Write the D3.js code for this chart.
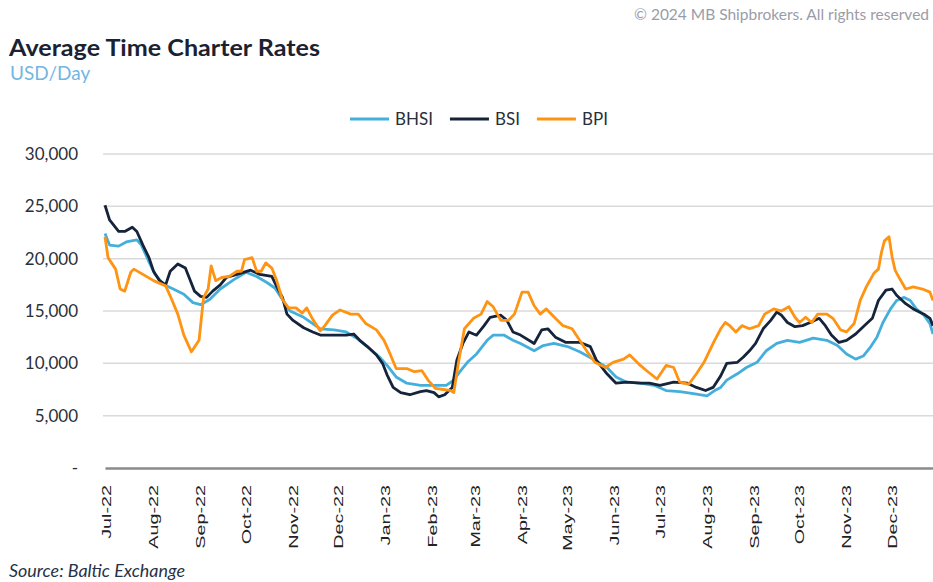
<!DOCTYPE html>
<html>
<head>
<meta charset="utf-8">
<script src="https://cdn.jsdelivr.net/npm/d3@7"></script>
<style>
  body { margin: 0; background: #fff; }
  svg { display: block; }
  text { font-family: Lato, "Open Sans", sans-serif; }
</style>
</head>
<body>
<script>
// values (USD/day)
const bhsi = [
  ['2022-07-01', 22400], ['2022-07-04', 21300], ['2022-07-10', 21200], ['2022-07-15', 21600], ['2022-07-22', 21800],
  ['2022-07-25', 21300], ['2022-07-30', 19700], ['2022-08-03', 18500], ['2022-08-09', 17500], ['2022-08-15', 17100],
  ['2022-08-22', 16600], ['2022-08-28', 15800], ['2022-09-02', 15600], ['2022-09-08', 16100], ['2022-09-15', 17100],
  ['2022-09-24', 18000], ['2022-10-02', 18700], ['2022-10-09', 18300], ['2022-10-16', 17700], ['2022-10-21', 17200],
  ['2022-10-26', 16100], ['2022-10-31', 15000], ['2022-11-09', 14400], ['2022-11-20', 13300], ['2022-11-29', 13200],
  ['2022-12-07', 13000], ['2022-12-14', 12400], ['2022-12-21', 11600], ['2022-12-29', 10600], ['2023-01-03', 9800],
  ['2023-01-09', 8700], ['2023-01-16', 8100], ['2023-01-25', 7900], ['2023-02-03', 7900], ['2023-02-11', 7900],
  ['2023-02-16', 8400], ['2023-02-20', 9200], ['2023-02-25', 10100], ['2023-03-03', 10900], ['2023-03-10', 12200],
  ['2023-03-14', 12700], ['2023-03-21', 12700], ['2023-03-27', 12200], ['2023-04-01', 11900], ['2023-04-10', 11200],
  ['2023-04-16', 11700], ['2023-04-23', 11900], ['2023-05-02', 11600], ['2023-05-10', 11100], ['2023-05-19', 10400],
  ['2023-05-28', 9600], ['2023-06-03', 8700], ['2023-06-10', 8200], ['2023-06-19', 8100], ['2023-06-28', 7900],
  ['2023-07-06', 7400], ['2023-07-15', 7300], ['2023-07-24', 7100], ['2023-08-02', 6900], ['2023-08-07', 7400],
  ['2023-08-11', 7700], ['2023-08-15', 8400], ['2023-08-22', 9000], ['2023-08-28', 9600], ['2023-09-04', 10100],
  ['2023-09-10', 11200], ['2023-09-17', 11900], ['2023-09-24', 12200], ['2023-10-02', 12000], ['2023-10-11', 12400],
  ['2023-10-20', 12200], ['2023-10-27', 11700], ['2023-11-02', 10900], ['2023-11-08', 10400], ['2023-11-13', 10700],
  ['2023-11-18', 11600], ['2023-11-22', 12500], ['2023-11-26', 13900], ['2023-12-01', 15200], ['2023-12-05', 16000],
  ['2023-12-10', 16300], ['2023-12-14', 16000], ['2023-12-18', 15200], ['2023-12-23', 14600], ['2023-12-27', 13800],
  ['2023-12-29', 12800]
];

const bsi = [
  ['2022-07-01', 25100], ['2022-07-04', 23700], ['2022-07-10', 22600], ['2022-07-14', 22600], ['2022-07-19', 23000],
  ['2022-07-22', 22600], ['2022-07-26', 21300], ['2022-07-30', 20100], ['2022-08-02', 18800], ['2022-08-06', 17900],
  ['2022-08-10', 17500], ['2022-08-13', 18800], ['2022-08-18', 19500], ['2022-08-23', 19100], ['2022-08-26', 18000],
  ['2022-08-29', 16900], ['2022-09-02', 16400], ['2022-09-06', 16300], ['2022-09-10', 16900], ['2022-09-15', 17500],
  ['2022-09-19', 18200], ['2022-09-26', 18500], ['2022-10-05', 18900], ['2022-10-11', 18500], ['2022-10-19', 18300],
  ['2022-10-22', 17400], ['2022-10-26', 16300], ['2022-10-29', 14700], ['2022-11-02', 14100], ['2022-11-09', 13400],
  ['2022-11-15', 13000], ['2022-11-20', 12700], ['2022-11-29', 12700], ['2022-12-07', 12700], ['2022-12-12', 12800],
  ['2022-12-16', 12200], ['2022-12-21', 11600], ['2022-12-27', 10800], ['2022-12-31', 10000], ['2023-01-03', 8900],
  ['2023-01-07', 7700], ['2023-01-12', 7200], ['2023-01-18', 7000], ['2023-01-25', 7300], ['2023-01-29', 7400],
  ['2023-02-03', 7200], ['2023-02-06', 6800], ['2023-02-10', 7000], ['2023-02-15', 7700], ['2023-02-18', 10300],
  ['2023-02-22', 11900], ['2023-02-26', 13000], ['2023-03-01', 12800], ['2023-03-03', 12700], ['2023-03-08', 13600],
  ['2023-03-12', 14400], ['2023-03-19', 14600], ['2023-03-23', 14100], ['2023-03-27', 13000], ['2023-04-01', 12700],
  ['2023-04-10', 11900], ['2023-04-15', 13200], ['2023-04-19', 13300], ['2023-04-24', 12500], ['2023-05-01', 12000],
  ['2023-05-10', 12000], ['2023-05-17', 11600], ['2023-05-21', 10300], ['2023-05-28', 9000], ['2023-06-03', 8100],
  ['2023-06-10', 8200], ['2023-06-19', 8100], ['2023-06-25', 8100], ['2023-07-02', 7900], ['2023-07-11', 8200],
  ['2023-07-20', 8100], ['2023-07-26', 7700], ['2023-08-01', 7400], ['2023-08-06', 7700], ['2023-08-11', 8800],
  ['2023-08-15', 10000], ['2023-08-22', 10100], ['2023-08-26', 10600], ['2023-08-30', 11200], ['2023-09-03', 11900],
  ['2023-09-08', 13300], ['2023-09-13', 14100], ['2023-09-17', 14900], ['2023-09-20', 14600], ['2023-09-24', 13900],
  ['2023-09-29', 13500], ['2023-10-04', 13600], ['2023-10-09', 13900], ['2023-10-15', 14300], ['2023-10-19', 13600],
  ['2023-10-23', 12700], ['2023-10-28', 12000], ['2023-11-02', 12200], ['2023-11-08', 12800], ['2023-11-13', 13500],
  ['2023-11-19', 14300], ['2023-11-23', 16000], ['2023-11-28', 17000], ['2023-12-02', 17100], ['2023-12-05', 16500],
  ['2023-12-11', 15700], ['2023-12-16', 15200], ['2023-12-23', 14700], ['2023-12-27', 14300], ['2023-12-29', 13600]
];

const bpi = [
  ['2022-07-01', 22100], ['2022-07-03', 20100], ['2022-07-08', 19000], ['2022-07-11', 17100], ['2022-07-14', 16900],
  ['2022-07-18', 18700], ['2022-07-20', 19000], ['2022-07-26', 18500], ['2022-08-02', 17900], ['2022-08-10', 17400],
  ['2022-08-14', 16100], ['2022-08-18', 14700], ['2022-08-22', 12700], ['2022-08-27', 11100], ['2022-09-01', 12200],
  ['2022-09-04', 16300], ['2022-09-07', 17100], ['2022-09-09', 19300], ['2022-09-12', 17900], ['2022-09-16', 18200],
  ['2022-09-21', 18300], ['2022-09-26', 18800], ['2022-09-29', 18800], ['2022-10-01', 19900], ['2022-10-06', 20100],
  ['2022-10-09', 18800], ['2022-10-12', 18800], ['2022-10-15', 19600], ['2022-10-19', 19100], ['2022-10-22', 18000],
  ['2022-10-26', 16100], ['2022-10-30', 15300], ['2022-11-04', 15300], ['2022-11-08', 14800], ['2022-11-11', 15300],
  ['2022-11-15', 14200], ['2022-11-20', 13100], ['2022-11-23', 13600], ['2022-11-28', 14600], ['2022-12-03', 15100],
  ['2022-12-10', 14700], ['2022-12-15', 14700], ['2022-12-20', 13800], ['2022-12-27', 13200], ['2023-01-01', 12200],
  ['2023-01-05', 10900], ['2023-01-09', 9500], ['2023-01-16', 9500], ['2023-01-21', 9200], ['2023-01-26', 9300],
  ['2023-01-30', 8400], ['2023-02-04', 7600], ['2023-02-09', 7500], ['2023-02-14', 7400], ['2023-02-16', 7200],
  ['2023-02-19', 10000], ['2023-02-23', 13300], ['2023-03-01', 14300], ['2023-03-06', 14700], ['2023-03-10', 15900],
  ['2023-03-14', 15400], ['2023-03-19', 14100], ['2023-03-24', 14100], ['2023-03-28', 14700], ['2023-04-02', 16800],
  ['2023-04-06', 16800], ['2023-04-10', 15500], ['2023-04-14', 14700], ['2023-04-18', 15200], ['2023-04-24', 14300],
  ['2023-04-29', 13600], ['2023-05-05', 13300], ['2023-05-10', 12200], ['2023-05-15', 11100], ['2023-05-20', 10100],
  ['2023-05-27', 9600], ['2023-06-01', 10100], ['2023-06-08', 10400], ['2023-06-12', 10800], ['2023-06-19', 9800],
  ['2023-06-24', 9200], ['2023-06-30', 8500], ['2023-07-06', 9800], ['2023-07-11', 9600], ['2023-07-15', 8200],
  ['2023-07-21', 8000], ['2023-07-26', 9000], ['2023-07-31', 10100], ['2023-08-06', 11900], ['2023-08-11', 13300],
  ['2023-08-14', 13900], ['2023-08-17', 13600], ['2023-08-21', 13000], ['2023-08-25', 13600], ['2023-08-30', 13300],
  ['2023-09-05', 13600], ['2023-09-09', 14700], ['2023-09-15', 15200], ['2023-09-20', 15000], ['2023-09-25', 15400],
  ['2023-09-29', 14400], ['2023-10-02', 13900], ['2023-10-06', 14400], ['2023-10-10', 13900], ['2023-10-14', 14700],
  ['2023-10-20', 14700], ['2023-10-24', 14300], ['2023-10-29', 13200], ['2023-11-02', 13000], ['2023-11-07', 13800],
  ['2023-11-11', 16000], ['2023-11-15', 17300], ['2023-11-20', 18600], ['2023-11-23', 19000], ['2023-11-25', 20600],
  ['2023-11-27', 21700], ['2023-11-30', 22100], ['2023-12-02', 20200], ['2023-12-04', 18900], ['2023-12-07', 18100],
  ['2023-12-11', 17100], ['2023-12-16', 17300], ['2023-12-22', 17100], ['2023-12-27', 16800], ['2023-12-29', 16000]
];

const seriesNames = ['BHSI', 'BSI', 'BPI'];
const monthLabels = ['Jul-22', 'Aug-22', 'Sep-22', 'Oct-22', 'Nov-22', 'Dec-22', 'Jan-23', 'Feb-23', 'Mar-23',
  'Apr-23', 'May-23', 'Jun-23', 'Jul-23', 'Aug-23', 'Sep-23', 'Oct-23', 'Nov-23', 'Dec-23'];
const yTicks = [0, 5000, 10000, 15000, 20000, 25000, 30000];

const width = 933;
const height = 582;
const colors = { BHSI: '#45afdc', BSI: '#15233b', BPI: '#ff9312' };

const parseDay = d3.timeParse('%Y-%m-%d');
const parseMonth = d3.timeParse('%b-%y');

const svg = d3.select('body')
  .append('svg')
  .attr('width', width)
  .attr('height', height);

const x = d3.scaleTime()
  .domain([parseDay('2022-07-01'), parseDay('2023-12-29')])
  .range([105, 933]);

const y = d3.scaleLinear()
  .domain([0, 30000])
  .range([468, 154]);

// header
svg.append('text')
  .attr('x', width - 4)
  .attr('y', 20)
  .attr('text-anchor', 'end')
  .style('font-size', '15.5px')
  .attr('fill', '#9a9ca8')
  .text('\u00a9 2024 MB Shipbrokers. All rights reserved');

svg.append('text')
  .attr('x', 9)
  .attr('y', 56)
  .attr('textLength', 311)
  .attr('lengthAdjust', 'spacingAndGlyphs')
  .style('font-size', '23px')
  .style('font-weight', 'bold')
  .attr('fill', '#1a2232')
  .text('Average Time Charter Rates');

svg.append('text')
  .attr('x', 10)
  .attr('y', 80)
  .style('font-size', '19px')
  .attr('fill', '#74b6e2')
  .text('USD/Day');

// gridlines
svg.append('g')
  .selectAll('line')
  .data(yTicks.filter(d => d > 0))
  .join('line')
  .attr('x1', 103)
  .attr('x2', width)
  .attr('y1', d => y(d))
  .attr('y2', d => y(d))
  .attr('stroke', '#dadada')
  .attr('stroke-width', 1.5);

// y axis labels
const yAxis = svg.append('g')
  .attr('transform', 'translate(78,0)')
  .call(d3.axisLeft(y)
    .tickValues(yTicks)
    .tickSize(0)
    .tickPadding(0)
    .tickFormat(d => d === 0 ? '-' : d3.format(',')(d)));
yAxis.select('.domain').remove();
yAxis.selectAll('text')
  .attr('fill', '#2a2f3a')
  .style('font-family', 'Lato, sans-serif')
  .style('font-size', '17px');

// x axis
const xAxis = svg.append('g')
  .attr('transform', `translate(0,${ y(0) })`)
  .call(d3.axisBottom(x)
    .tickValues(monthLabels.map(parseMonth))
    .tickSize(0)
    .tickSizeOuter(0)
    .tickFormat(d3.timeFormat('%b-%y')));
xAxis.select('.domain')
  .attr('stroke', '#8a8a8a')
  .attr('stroke-width', 2.5);
xAxis.selectAll('text')
  .attr('x', 0)
  .attr('y', 0)
  .attr('dy', '0.35em')
  .attr('text-anchor', 'end')
  .attr('transform', 'translate(1,17) rotate(-90) scale(1.52,1)')
  .attr('fill', '#222')
  .style('font-family', '"Liberation Sans", Arial, sans-serif')
  .style('font-size', '13px');

// lines
const line = d3.line()
  .x(d => x(parseDay(d[0])))
  .y(d => y(d[1]));

svg.append('g')
  .selectAll('path')
  .data([bhsi, bsi, bpi])
  .join('path')
  .attr('d', line)
  .attr('fill', 'none')
  .attr('stroke', (d, i) => colors[seriesNames[i]])
  .attr('stroke-width', 2.8)
  .attr('stroke-linejoin', 'round');

// legend
const legend = svg.append('g').attr('transform', 'translate(350,119)');
let lx = 0;
seriesNames.forEach(name => {
  const item = legend.append('g').attr('transform', `translate(${ lx },0)`);
  item.append('line')
    .attr('x1', 0)
    .attr('x2', 39)
    .attr('stroke', colors[name])
    .attr('stroke-width', 3);
  const label = item.append('text')
    .attr('x', 45)
    .attr('dy', '0.35em')
    .style('font-size', '17px')
    .attr('fill', '#2a2f3a')
    .text(name);
  lx += 45 + label.node().getComputedTextLength() + 17;
});

// source
svg.append('text')
  .attr('x', 9)
  .attr('y', 577)
  .attr('textLength', 176)
  .attr('lengthAdjust', 'spacingAndGlyphs')
  .style('font-size', '17px')
  .style('font-style', 'italic')
  .attr('fill', '#27324a')
  .text('Source: Baltic Exchange');
</script>
</body>
</html>
